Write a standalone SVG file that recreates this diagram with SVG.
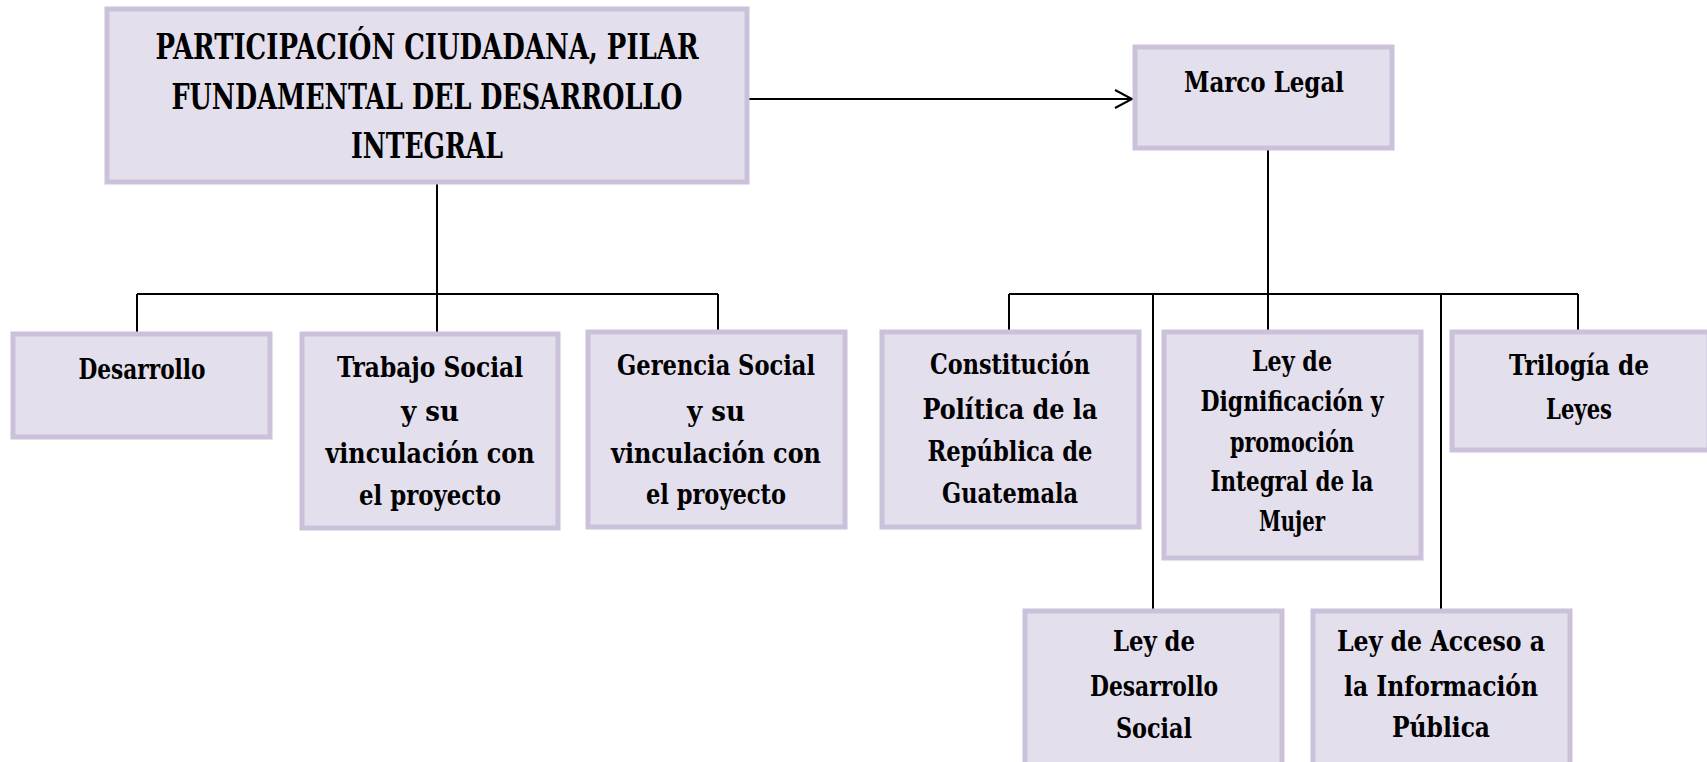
<svg xmlns="http://www.w3.org/2000/svg" width="1707" height="762" viewBox="0 0 1707 762">
<style>
.box{fill:#e4dfec;stroke:#ccc1da;stroke-width:5}
.t{font-family:"DejaVu Serif Condensed","DejaVu Serif",serif;font-weight:bold;font-size:28px;fill:#000;text-anchor:middle}
.h{font-size:36px}
.c{fill:none;stroke:#000;stroke-width:2}
</style>
<rect width="1707" height="762" fill="#fff"/>
<g id="connectors">
<line class="c" x1="747" y1="99" x2="1132" y2="99"/>
<polyline class="c" points="1115,90 1132,99 1115,108"/>
<line class="c" x1="437" y1="182" x2="437" y2="294"/>
<line class="c" x1="137" y1="294" x2="718" y2="294"/>
<line class="c" x1="137" y1="294" x2="137" y2="334"/>
<line class="c" x1="437" y1="294" x2="437" y2="334"/>
<line class="c" x1="718" y1="294" x2="718" y2="332"/>
<line class="c" x1="1268" y1="148" x2="1268" y2="294"/>
<line class="c" x1="1009" y1="294" x2="1578" y2="294"/>
<line class="c" x1="1009" y1="294" x2="1009" y2="332"/>
<line class="c" x1="1153" y1="294" x2="1153" y2="611"/>
<line class="c" x1="1268" y1="294" x2="1268" y2="332"/>
<line class="c" x1="1441" y1="294" x2="1441" y2="611"/>
<line class="c" x1="1578" y1="294" x2="1578" y2="332"/>
</g>
<g id="main">
<rect class="box" x="107" y="9" width="640" height="173"/>
<text class="t h" x="427" y="59" textLength="543" lengthAdjust="spacingAndGlyphs">PARTICIPACIÓN CIUDADANA, PILAR</text>
<text class="t h" x="427" y="109" textLength="511" lengthAdjust="spacingAndGlyphs">FUNDAMENTAL DEL DESARROLLO</text>
<text class="t h" x="427" y="158" textLength="152" lengthAdjust="spacingAndGlyphs">INTEGRAL</text>
</g>
<g id="marco-legal">
<rect class="box" x="1135" y="47" width="257" height="101"/>
<text class="t" x="1264" y="92" textLength="160" lengthAdjust="spacingAndGlyphs">Marco Legal</text>
</g>
<g id="desarrollo">
<rect class="box" x="13" y="334" width="257" height="103"/>
<text class="t" x="142" y="379" textLength="127" lengthAdjust="spacingAndGlyphs">Desarrollo</text>
</g>
<g id="trabajo-social">
<rect class="box" x="302" y="334" width="256" height="194"/>
<text class="t" x="430" y="377" textLength="186" lengthAdjust="spacingAndGlyphs">Trabajo Social</text>
<text class="t" x="430" y="421" textLength="58" lengthAdjust="spacingAndGlyphs">y su</text>
<text class="t" x="430" y="463" textLength="209" lengthAdjust="spacingAndGlyphs">vinculación con</text>
<text class="t" x="430" y="505" textLength="142" lengthAdjust="spacingAndGlyphs">el proyecto</text>
</g>
<g id="gerencia-social">
<rect class="box" x="588" y="332" width="257" height="195"/>
<text class="t" x="716" y="375" textLength="198" lengthAdjust="spacingAndGlyphs">Gerencia Social</text>
<text class="t" x="716" y="421" textLength="58" lengthAdjust="spacingAndGlyphs">y su</text>
<text class="t" x="716" y="463" textLength="210" lengthAdjust="spacingAndGlyphs">vinculación con</text>
<text class="t" x="716" y="504" textLength="140" lengthAdjust="spacingAndGlyphs">el proyecto</text>
</g>
<g id="constitucion">
<rect class="box" x="882" y="332" width="257" height="195"/>
<text class="t" x="1010" y="374" textLength="160" lengthAdjust="spacingAndGlyphs">Constitución</text>
<text class="t" x="1010" y="419" textLength="175" lengthAdjust="spacingAndGlyphs">Política de la</text>
<text class="t" x="1010" y="461" textLength="165" lengthAdjust="spacingAndGlyphs">República de</text>
<text class="t" x="1010" y="503" textLength="136" lengthAdjust="spacingAndGlyphs">Guatemala</text>
</g>
<g id="ley-dignificacion">
<rect class="box" x="1164" y="332" width="257" height="226"/>
<text class="t" x="1292" y="371" textLength="80" lengthAdjust="spacingAndGlyphs">Ley de</text>
<text class="t" x="1292" y="411" textLength="183" lengthAdjust="spacingAndGlyphs">Dignificación y</text>
<text class="t" x="1292" y="452" textLength="124" lengthAdjust="spacingAndGlyphs">promoción</text>
<text class="t" x="1292" y="491" textLength="163" lengthAdjust="spacingAndGlyphs">Integral de la</text>
<text class="t" x="1292" y="531" textLength="66" lengthAdjust="spacingAndGlyphs">Mujer</text>
</g>
<g id="trilogia">
<rect class="box" x="1452" y="332" width="257" height="118"/>
<text class="t" x="1579" y="375" textLength="140" lengthAdjust="spacingAndGlyphs">Trilogía de</text>
<text class="t" x="1579" y="419" textLength="66" lengthAdjust="spacingAndGlyphs">Leyes</text>
</g>
<g id="ley-desarrollo-social">
<rect class="box" x="1025" y="611" width="257" height="155"/>
<text class="t" x="1154" y="651" textLength="82" lengthAdjust="spacingAndGlyphs">Ley de</text>
<text class="t" x="1154" y="696" textLength="128" lengthAdjust="spacingAndGlyphs">Desarrollo</text>
<text class="t" x="1154" y="738" textLength="76" lengthAdjust="spacingAndGlyphs">Social</text>
</g>
<g id="ley-acceso">
<rect class="box" x="1313" y="611" width="257" height="155"/>
<text class="t" x="1441" y="651" textLength="208" lengthAdjust="spacingAndGlyphs">Ley de Acceso a</text>
<text class="t" x="1441" y="696" textLength="194" lengthAdjust="spacingAndGlyphs">la Información</text>
<text class="t" x="1441" y="737" textLength="98" lengthAdjust="spacingAndGlyphs">Pública</text>
</g>
</svg>
